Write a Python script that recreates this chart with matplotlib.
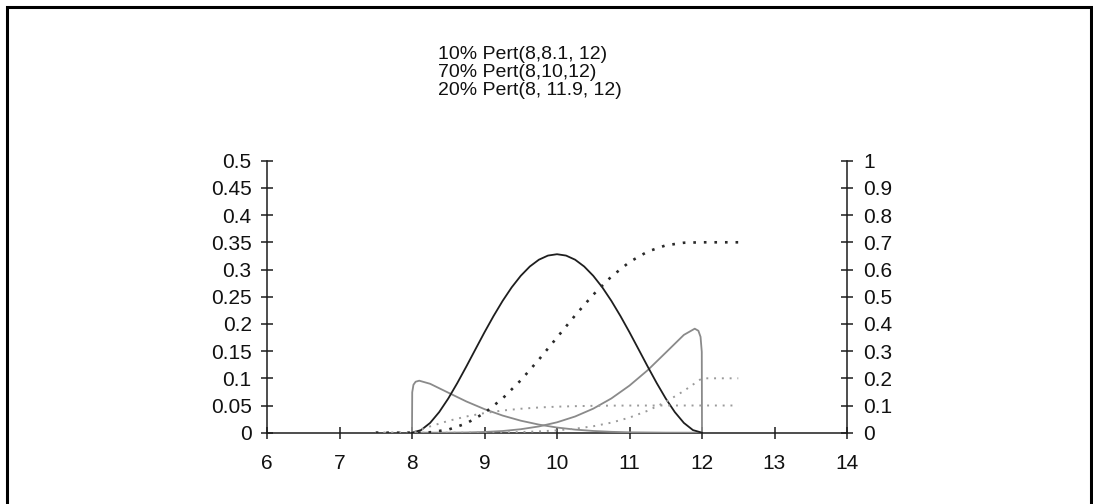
import matplotlib
matplotlib.use("Agg")
import matplotlib.pyplot as plt
from matplotlib.lines import Line2D
from matplotlib.ticker import FuncFormatter, MultipleLocator

plt.rcParams["font.family"] = ["Liberation Sans", "DejaVu Sans"]

W, H = 1093, 504

title_lines = ["10% Pert(8,8.1, 12)", "70% Pert(8,10,12)", "20% Pert(8, 11.9, 12)"]

# weighted densities (left axis)
x_mid = [8.0, 8.125, 8.25, 8.375, 8.5, 8.625, 8.75, 8.875, 9.0, 9.125, 9.25, 9.375,
         9.5, 9.625, 9.75, 9.875, 10.0, 10.125, 10.25, 10.375, 10.5, 10.625, 10.75,
         10.875, 11.0, 11.125, 11.25, 11.375, 11.5, 11.625, 11.75, 11.875, 12.0]
dens_mid = [0.0, 0.0048, 0.0180, 0.0379, 0.0628, 0.0913, 0.1218, 0.1533, 0.1846, 0.2145,
            0.2423, 0.2672, 0.2884, 0.3055, 0.3180, 0.3256, 0.3281, 0.3256, 0.3180,
            0.3055, 0.2884, 0.2672, 0.2423, 0.2145, 0.1846, 0.1533, 0.1218, 0.0913,
            0.0628, 0.0379, 0.0180, 0.0048, 0.0]

x_low = [8.0, 8.003, 8.02, 8.05, 8.1, 8.25, 8.5, 8.75, 9.0, 9.25, 9.5, 9.75, 10.0,
         10.25, 10.5, 10.75, 11.0, 11.5, 12.0]
dens_low = [0.0, 0.0743, 0.0881, 0.0937, 0.0956, 0.0899, 0.0736, 0.0574, 0.0433, 0.0315,
            0.0221, 0.0149, 0.0095, 0.0057, 0.0032, 0.0016, 0.0007, 0.0001, 0.0]

x_high = [8.0, 8.5, 8.75, 9.0, 9.25, 9.5, 9.75, 10.0, 10.25, 10.5, 10.75, 11.0, 11.25,
          11.5, 11.75, 11.9, 11.95, 11.98, 11.997, 12.0]
dens_high = [0.0, 0.0001, 0.0004, 0.0013, 0.0031, 0.0064, 0.0115, 0.0191, 0.0298, 0.0442,
             0.0630, 0.0866, 0.1148, 0.1472, 0.1798, 0.1912, 0.1874, 0.1762, 0.1486, 0.0]

# weighted cumulative curves (right axis)
x_cum = [7.5, 8.0, 8.25, 8.5, 8.75, 9.0, 9.25, 9.5, 9.75, 10.0, 10.25, 10.5, 10.75,
         11.0, 11.25, 11.5, 11.75, 12.0, 12.5]
cum_mid = [0.0, 0.0, 0.0016, 0.0112, 0.0341, 0.0725, 0.1260, 0.1926, 0.2688, 0.35,
           0.4312, 0.5074, 0.5740, 0.6275, 0.6659, 0.6888, 0.6984, 0.7, 0.7]
cum_low = [0.0, 0.0, 0.0232, 0.0434, 0.0597, 0.0722, 0.0815, 0.0881, 0.0927, 0.0957,
           0.0976, 0.0988, 0.0995, 0.0998, 0.0999, 0.1, 0.1, 0.1, 0.1]
cum_high = [0.0, 0.0, 0.0, 0.0, 0.0, 0.0004, 0.0010, 0.0024, 0.0048, 0.0086, 0.0146,
            0.0238, 0.0370, 0.0556, 0.0806, 0.1132, 0.1536, 0.2, 0.2]

x_ticks = [6, 7, 8, 9, 10, 11, 12, 13, 14]

fig = plt.figure(figsize=(W / 100, H / 100), dpi=100)
fig.patch.set_facecolor("white")

# plot box in pixel terms
left_px, right_px, top_px, bottom_px = 267, 847, 160.7, 432.7
ax = fig.add_axes([left_px / W, 1 - bottom_px / H,
                   (right_px - left_px) / W, (bottom_px - top_px) / H])
ax2 = ax.twinx()

axis_col = "#1c1c1c"
gray = "#8a8a8a"

ax.plot(x_low, dens_low, color=gray, lw=1.3, zorder=3)
ax.plot(x_high, dens_high, color=gray, lw=1.3, zorder=3)
ax.plot(x_mid, dens_mid, color="#1e1e1e", lw=1.3, zorder=4)

dots = (0, (1.0, 3.0))
ax2.plot(x_cum, cum_low, color="#9a9a9a", lw=1.4, linestyle=dots)
ax2.plot(x_cum, cum_high, color="#9a9a9a", lw=1.4, linestyle=dots)
ax2.plot(x_cum, cum_mid, color="#2a2a2a", lw=1.9, linestyle=dots)

ax.set_xlim(6, 14)
ax.set_ylim(0, 0.5)
ax2.set_ylim(0, 1)
ax.set_xticks(x_ticks)
ax.yaxis.set_major_locator(MultipleLocator(0.05))
ax2.yaxis.set_major_locator(MultipleLocator(0.1))
fmt = FuncFormatter(lambda v, p: ("%.2f" % v).rstrip("0").rstrip(".") if v else "0")
ax.yaxis.set_major_formatter(fmt)
ax2.yaxis.set_major_formatter(fmt)

for a in (ax, ax2):
    a.set_facecolor("none")
    a.spines["top"].set_visible(False)
    for s in ("left", "right", "bottom"):
        a.spines[s].set_color(axis_col)
        a.spines[s].set_linewidth(1.1)
    a.tick_params(direction="inout", length=9, width=1.1, color=axis_col,
                  labelsize=15, labelcolor="#111111")
ax.spines["right"].set_visible(False)
ax2.spines["left"].set_visible(False)
ax2.spines["bottom"].set_visible(False)
ax.tick_params(axis="y", pad=6.5)
ax.tick_params(axis="x", pad=11)
ax2.tick_params(axis="y", pad=7)

# heading lines
for i, line in enumerate(title_lines):
    fig.text(438 / W, 1 - (59 + 18 * i) / H, line, ha="left", va="baseline",
             fontsize=14, color="#111111")

# outer frame (left, top, right)
fx = [6.5 / W, 6.5 / W, 1090.5 / W, 1090.5 / W]
fy = [0, 1 - 6.5 / H, 1 - 6.5 / H, 0]
fig.add_artist(Line2D(fx, fy, transform=fig.transFigure, color="black", lw=2.2,
                      solid_joinstyle="miter"))

fig.savefig("out.png", dpi=100, facecolor="white")
